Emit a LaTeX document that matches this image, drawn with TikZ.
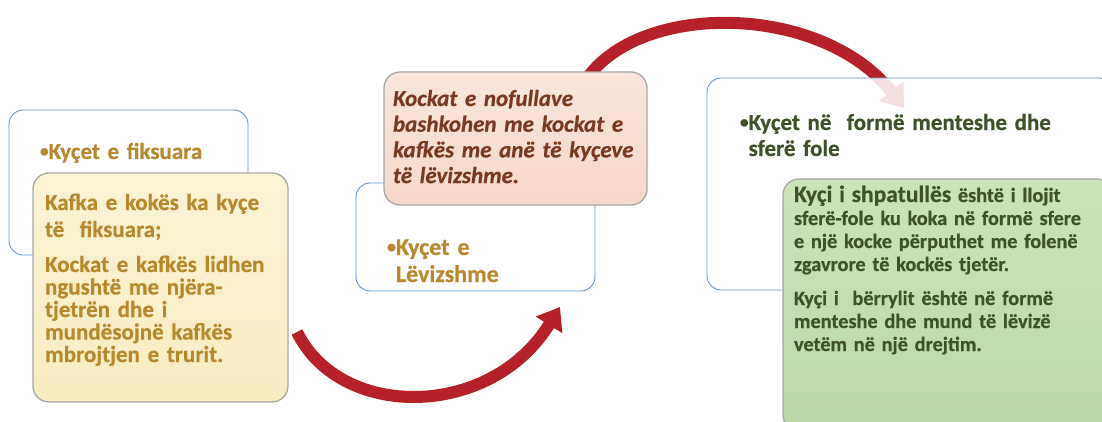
\documentclass[tikz,border=0pt]{standalone}
\usepackage{fontspec}
\setmainfont{Carlito}[BoldFeatures={FakeBold=0.5}, BoldItalicFeatures={FakeBold=0.5}]
\usetikzlibrary{arrows.meta}
\definecolor{gold}{RGB}{184,136,46}
\definecolor{leaf}{RGB}{62,82,40}
\definecolor{rust}{RGB}{122,56,30}
\definecolor{frame}{RGB}{96,152,210}
\definecolor{arrowred}{RGB}{181,33,38}
\definecolor{cream1}{RGB}{251,243,212}
\definecolor{cream2}{RGB}{248,236,192}
\definecolor{blush1}{RGB}{250,230,220}
\definecolor{blush2}{RGB}{246,216,202}
\definecolor{sage1}{RGB}{203,228,186}
\definecolor{sage2}{RGB}{186,216,164}
% small list bullet
\newcommand\listdot{\raisebox{0.1em}{\scalebox{0.75}{•}}}
\tikzset{
  outline/.style={draw=frame, line width=0.9pt, rounded corners=14pt, fill=white,
    inner sep=0pt, outer sep=0pt},
  notebox/.style={draw=gray!70, line width=1.3pt, rounded corners=16pt,
    inner sep=0pt, outer sep=0pt},
  label/.style={anchor=base west, inner sep=0pt, outer sep=0pt, align=left},
  bigarrow/.style={draw=arrowred, line width=12pt, line cap=butt,
    -{Triangle[length=21pt, width=30pt]}},
}
\begin{document}
\begin{tikzpicture}[x=1pt, y=-1pt]
\useasboundingbox (0,0) rectangle (1102,422);

% --- left group: fixed joints
\node[outline, minimum width=239pt, minimum height=145pt] (lb) at (128.5,182.5) {};
\node[label, text width=220pt, text=gold, font=\fontsize{23}{26}\selectfont\bfseries]
  (lbt) at (40,159) {\listdot Kyçet e fiksuara};
\node[notebox, top color=cream1, bottom color=cream2,
  minimum width=255pt, minimum height=229pt] (yb) at (160.5,287.5) {};
\node[label, text width=245pt, text=gold, font=\fontsize{23}{22.5}\selectfont\bfseries]
  (ybt) at (45,210) {{\fontsize{23}{27}\selectfont Kafka e kokës ka kyçe\\të\ \ fiksuara;\par}
  \vspace{12.5pt}
  Kockat e kafkës lidhen\\ngushtë me njëra-\\tjetrën dhe i\\mundësojnë kafkës\\mbrojtjen e trurit.};

% --- middle group: movable joints
\node[outline, minimum width=239pt, minimum height=108pt] (mb) at (475.5,237) {};
\node[label, text width=220pt, text=gold, font=\fontsize{24}{27}\selectfont\bfseries]
  (mbt) at (387,255) {\listdot Kyçet e\\\phantom{\listdot}Lëvizshme};

% arrow rising from behind the pink note to the right group
\coordinate (a2s) at (580,90);
\coordinate (a2e) at (904,108);
\draw[bigarrow] (a2s) .. controls (625,0) and (820,0) .. (a2e);

\node[notebox, top color=blush1, bottom color=blush2,
  minimum width=263pt, minimum height=133pt] (pk) at (515.5,138.5) {};
\node[label, text width=258pt, text=rust, font=\fontsize{23}{25.7}\selectfont\bfseries\itshape]
  (pkt) at (393,106) {Kockat e nofullave\\bashkohen me kockat e\\kafkës me anë të kyçeve\\të lëvizshme.};

% arrow from the yellow note to the middle group
\coordinate (a1s) at (297,332);
\coordinate (a1e) at (560,307);
\draw[bigarrow] (a1s) .. controls (340,420) and (490,420) .. (a1e);

% --- right group: hinge and ball-and-socket joints
\node[outline, fill opacity=0.86, minimum width=405pt, minimum height=212pt] (rb) at (909.5,184) {};
\node[label, text width=360pt, text=leaf, font=\fontsize{23}{26}\selectfont\bfseries]
  (rbt) at (740,130) {\listdot Kyçet në\ \ formë menteshe dhe\\\phantom{\listdot}sferë fole};
\node[notebox, top color=sage1, bottom color=sage2,
  minimum width=329pt, minimum height=252pt] (gb) at (947.5,305) {};
\node[label, text width=310pt, text=leaf, font=\fontsize{20.3}{23}\selectfont\bfseries]
  (gbt) at (794,202) {{\fontsize{23.5}{23}\selectfont Kyçi i shpatullës} është i llojit\\
  sferë-fole ku koka në formë sfere\\e një kocke përputhet me folenë\\zgavrore të kockës tjetër.\par\vspace{11pt}
  Kyçi i\ \ bërrylit është në formë\\menteshe dhe mund të lëvizë\\vetëm në një drejtim.};
\end{tikzpicture}
\end{document}
